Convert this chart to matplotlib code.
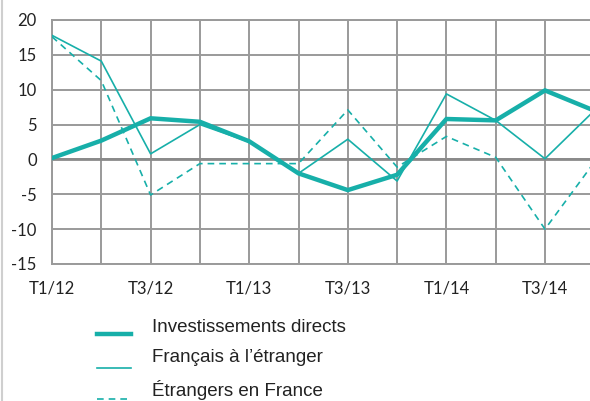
import matplotlib.pyplot as plt
from matplotlib.lines import Line2D
import numpy as np

plt.rcParams['axes.unicode_minus'] = False

# quarterly growth, T1/12 .. T4/14
quarters = ['T1/12', 'T2/12', 'T3/12', 'T4/12', 'T1/13', 'T2/13', 'T3/13', 'T4/13',
            'T1/14', 'T2/14', 'T3/14', 'T4/14']
invest_directs = [0.2, 2.7, 5.9, 5.4, 2.6, -2.0, -4.4, -2.2, 5.8, 5.6, 9.9, 7.0]
francais_etranger = [17.8, 14.1, 0.8, 5.0, 2.5, -2.0, 2.9, -3.1, 9.4, 5.6, 0.1, 7.0]
etrangers_france = [17.6, 11.3, -5.1, -0.6, -0.6, -0.6, 7.1, -1.1, 3.3, 0.3, -10.0, -0.4]
legend_labels = ['Investissements directs', 'Français à l\u2019étranger', 'Étrangers en France']

teal = '#17AFA9'
grid_col = '#9a9a9a'

W, H = 590, 401
fig = plt.figure(figsize=(W / 100, H / 100), dpi=100)
# plot area runs past the right edge of the picture (chart is cropped)
left, top, bottom = 52, 20, 264
right = left + 11 * 49.3
ax = fig.add_axes([left / W, 1 - bottom / H, (right - left) / W, (bottom - top) / H])

x = np.arange(len(quarters))
ax.plot(x, invest_directs, color=teal, lw=3.2, solid_joinstyle='miter', zorder=4)
ax.plot(x, francais_etranger, color=teal, lw=1.2, zorder=3)
ax.plot(x, etrangers_france, color=teal, lw=1.2, ls=(0, (4, 3)), zorder=3)

ax.set_xlim(0, len(quarters) - 1)
ax.set_ylim(-15, 20)
ax.set_yticks(np.arange(-15, 21, 5))
ax.set_xticks(x)
ax.set_xticklabels([q if i % 2 == 0 else '' for i, q in enumerate(quarters)])
ax.grid(True, color=grid_col, lw=1.4)
ax.axhline(0, color='#8a8a8a', lw=2.0, zorder=2)
ax.set_axisbelow(True)
for s in ['top', 'left', 'bottom']:
    ax.spines[s].set_color(grid_col)
    ax.spines[s].set_linewidth(1.4)
ax.spines['right'].set_visible(False)
ax.tick_params(length=0, labelsize=12, colors='#222222')
for lab in ax.get_xticklabels() + ax.get_yticklabels():
    lab.set_family('Lato')
ax.tick_params(axis='x', pad=12)
ax.tick_params(axis='y', pad=11)

# light frame line at left edge
fig.add_artist(Line2D([1.5 / W, 1.5 / W], [0, 1], color='#cfcfcf', lw=1.5))

# legend drawn by hand under the chart
rows = [(327, 334, 3.2, '-'), (358, 368, 1.2, '-'), (390, 399, 1.2, (0, (4, 3)))]
for (yt, yh, lw, ls), lab in zip(rows, legend_labels):
    fig.add_artist(Line2D([97 / W, 131 / W], [1 - yh / H, 1 - yh / H],
                          color=teal, lw=lw, ls=ls))
    fig.text(152 / W, 1 - yt / H, lab, family='Liberation Sans', fontsize=13.5,
             color='#222222', va='center', ha='left')

fig.savefig('out.png', dpi=100)
